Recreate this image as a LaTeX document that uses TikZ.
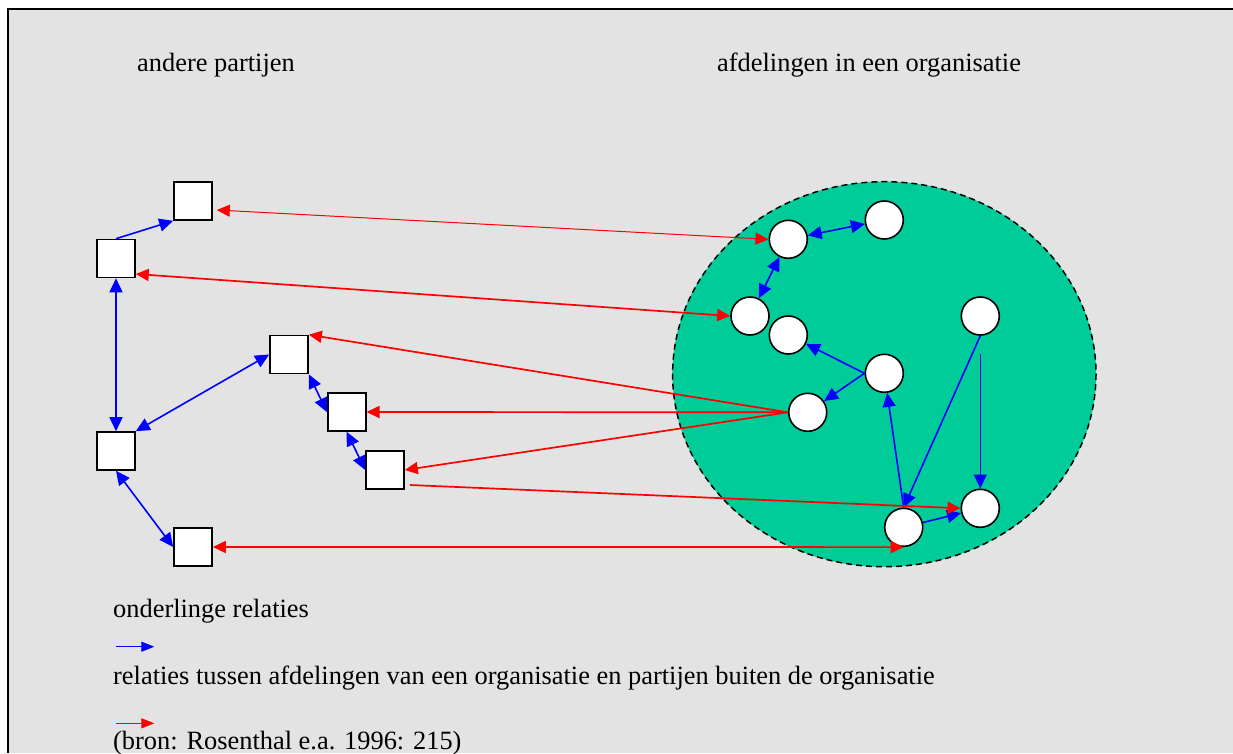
\documentclass[tikz,border=0pt]{standalone}
\usepackage{fontspec}
\setmainfont{Liberation Serif}
\usetikzlibrary{arrows.meta}
\definecolor{bgc}{HTML}{E3E3E3}
\definecolor{orgc}{HTML}{00CC99}
\tikzset{
  party/.style={draw=black, line width=1.6pt, fill=white, minimum size=38pt, inner sep=0pt, rectangle},
  dept/.style={draw=black, line width=1.6pt, fill=white, minimum size=38pt, inner sep=0pt, circle},
  blu/.style={draw=blue, line width=1.6pt, -{Triangle[length=14pt,width=13pt]}},
  bblu/.style={draw=blue, line width=1.6pt, {Triangle[length=14pt,width=13pt]}-{Triangle[length=14pt,width=13pt]}},
  rd/.style={draw=red, line width=1.7pt, -{Triangle[length=13pt,width=12pt]}},
  brd/.style={draw=red, line width=1.7pt, {Triangle[length=13pt,width=12pt]}-{Triangle[length=13pt,width=12pt]}},
  lbl/.style={anchor=base west, inner sep=0pt, font=\fontsize{26.4}{30}\selectfont},
}
\begin{document}
\begin{tikzpicture}[x=1pt,y=-1pt]
\useasboundingbox (0,0) rectangle (1233,753);
\fill[white] (0,0) rectangle (1233,753);
\fill[bgc] (7.5,8.5) rectangle (1233,753);
\draw[line width=2pt] (7.5,753) -- (7.5,8.5) -- (1233,8.5);

\node[lbl] (t1) at (137,71.7) {andere partijen};
\node[lbl] (t2) at (717,71.7) {afdelingen in een organisatie};

% organisation
\draw[orgc, fill=orgc] (884.3,374.2) ellipse [x radius=211.7, y radius=192.5];
\draw[black, line width=1.5pt, dash pattern=on 6pt off 4pt] (884.3,374.2) ellipse [x radius=211.7, y radius=192.5];

% parties
\node[party] (s1) at (193,201) {};
\node[party] (s2) at (116,258.5) {};
\node[party] (s3) at (116,451) {};
\node[party] (s4) at (193,547) {};
\node[party] (s5) at (289,354.5) {};
\node[party] (s6) at (346.7,412) {};
\node[party] (s7) at (385,470) {};

% departments
\node[dept] (c1) at (788.3,239.3) {};
\node[dept] (c2) at (884.3,220) {};
\node[dept] (c3) at (750,316) {};
\node[dept] (c4) at (788.3,335) {};
\node[dept] (c5) at (980.3,316) {};
\node[dept] (c6) at (884.3,373.3) {};
\node[dept] (c7) at (807.7,412.3) {};
\node[dept] (c8) at (980.3,508.3) {};
\node[dept] (c9) at (903.7,527.3) {};

% blue relations among parties
\draw[blu] (s2.north) -- (s1.south west);
\draw[bblu] (s2.south) -- (s3.north);
\draw[bblu] (s3.north east) -- (s5.west);
\draw[bblu] (s3.south) -- (s4.west);
\draw[bblu] (s5.south east) -- (s6.west);
\draw[bblu] (s6.south) -- (s7.west);

% blue relations among departments
\draw[bblu] (c1) -- (c2);
\draw[bblu] (c1) -- (c3);
\draw[blu] (c6.west) -- (c4);
\draw[blu] (c6.west) -- (c7);
\draw[blu] (c9.north) -- (c6);
\draw[blu] (c5.south) -- (c9.north);
\coordinate (c5b) at (980.3,354);
\draw[blu] (c5b) -- (c8.north);
\draw[blu] (c9) -- (c8);

% red relations
\draw[red, line width=1pt, {Triangle[length=13pt,width=12pt]}-{Triangle[length=13pt,width=12pt]}] ([xshift=4pt,yshift=-9pt]s1.east) -- (c1.west);
\draw[brd] ([yshift=-15.5pt]s2.east) -- (c3.west);
\draw[rd] (c7.west) -- (s5.north east);
\draw[rd] (c7.west) -- (s6.east);
\draw[rd] (c7.west) -- (s7.east);
\coordinate (s7b) at (410,485);
\draw[rd] (s7b) -- (c8.west);
\draw[brd] (s4.east) -- (c9.south);

% legend
\node[lbl] (l1) at (113,617.3) {onderlinge relaties};
\coordinate (lb1) at (116,646.7);
\coordinate (lb2) at (154.3,646.7);
\draw[draw=blue, line width=1.2pt, -{Triangle[length=13pt,width=10pt]}] (lb1) -- (lb2);
\node[lbl] (l2) at (113,684) {relaties tussen afdelingen van een organisatie en partijen buiten de organisatie};
\coordinate (lr1) at (116,723.3);
\coordinate (lr2) at (154.3,723.3);
\draw[draw=red, line width=1.2pt, -{Triangle[length=13pt,width=10pt]}] (lr1) -- (lr2);
\node[lbl] (l3) at (113,749) {(bron: Rosenthal e.a. 1996: 215)};
\end{tikzpicture}
\end{document}
